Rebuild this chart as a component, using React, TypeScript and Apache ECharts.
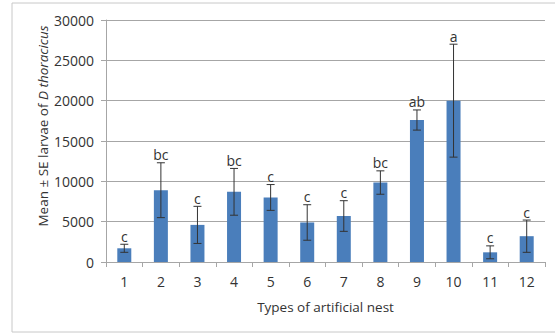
import React, { useEffect, useRef } from "react";
import * as echarts from "echarts";

const categories = ["1", "2", "3", "4", "5", "6", "7", "8", "9", "10", "11", "12"];
const means = [1700, 8900, 4600, 8700, 8000, 4900, 5700, 9850, 17600, 20000, 1200, 3200];
const errors = [500, 3400, 2300, 2900, 1600, 2200, 1900, 1450, 1250, 7000, 800, 2000];
const letters = ["c", "bc", "c", "bc", "c", "c", "c", "bc", "ab", "a", "c", "c"];
const yTicks = [0, 5000, 10000, 15000, 20000, 25000, 30000];

const FONT = "'Open Sans', sans-serif";

export default function App() {
  const ref = useRef<HTMLDivElement>(null);
  useEffect(() => {
    if (!ref.current) return;
    const chart = echarts.init(ref.current, null, { renderer: "svg" });
    const errData = means.map((m, i) => [i, m, errors[i], letters[i]]);
    chart.setOption({
      animation: false,
      grid: { left: 106, right: 10, top: 20, bottom: 72 },
      xAxis: {
        type: "category",
        data: categories,
        axisLine: { lineStyle: { color: "#a6a6a6", width: 1 } },
        axisTick: { show: true, length: 5, lineStyle: { color: "#a6a6a6" } },
        axisLabel: { color: "#333", fontSize: 14, fontFamily: FONT, margin: 12 },
        name: "Types of artificial nest",
        nameLocation: "middle",
        nameGap: 38,
        nameTextStyle: { color: "#333", fontSize: 13.5, fontFamily: FONT },
      },
      yAxis: {
        type: "value",
        min: yTicks[0],
        max: yTicks[yTicks.length - 1],
        interval: 5000,
        axisLine: { show: true, lineStyle: { color: "#a6a6a6" } },
        axisTick: { show: true, length: 5, lineStyle: { color: "#a6a6a6" } },
        splitLine: { lineStyle: { color: "#a6a6a6", width: 1 } },
        axisLabel: {
          color: "#333",
          fontSize: 14,
          fontFamily: FONT,
          margin: 12,
          formatter: (v: number) => String(v),
        },
      },
      graphic: [
        { type: "line", shape: { x1: 12, y1: 3, x2: 555, y2: 3 }, style: { stroke: "#c8c8c8", lineWidth: 1 } },
        { type: "line", shape: { x1: 12, y1: 3, x2: 12, y2: 332 }, style: { stroke: "#c8c8c8", lineWidth: 1 } },
        { type: "line", shape: { x1: 12, y1: 332, x2: 555, y2: 332 }, style: { stroke: "#c8c8c8", lineWidth: 1 } },
        {
          type: "text",
          x: 43,
          y: 126,
          rotation: Math.PI / 2,
          style: {
            text: "{n|Mean ± SE larvae of }{i|D thoracicus}",
            align: "center",
            verticalAlign: "middle",
            rich: {
              n: { fontSize: 13.5, fontFamily: FONT, fill: "#333" },
              i: { fontSize: 13.5, fontFamily: FONT, fill: "#333", fontStyle: "italic" },
            },
          },
        },
      ],
      series: [
        {
          type: "bar",
          data: means,
          barWidth: 14,
          itemStyle: { color: "#4a7ebb" },
        },
        {
          type: "custom",
          data: errData,
          z: 10,
          renderItem: (params: any, api: any) => {
            const i = api.value(0);
            const m = api.value(1);
            const e = api.value(2);
            const top = api.coord([i, m + e]);
            const bot = api.coord([i, m - e]);
            const x = top[0];
            const hw = 4;
            const style = { stroke: "#333", lineWidth: 1 };
            return {
              type: "group",
              children: [
                { type: "line", shape: { x1: x, y1: top[1], x2: x, y2: bot[1] }, style },
                { type: "line", shape: { x1: x - hw, y1: top[1], x2: x + hw, y2: top[1] }, style },
                { type: "line", shape: { x1: x - hw, y1: bot[1], x2: x + hw, y2: bot[1] }, style },
                {
                  type: "text",
                  x: x,
                  y: top[1] - 1,
                  style: {
                    text: letters[i],
                    align: "center",
                    verticalAlign: "bottom",
                    fontSize: 14,
                    fontFamily: FONT,
                    fill: "#333",
                  },
                },
              ],
            };
          },
        },
      ],
    });
    return () => chart.dispose();
  }, []);
  return <div ref={ref} style={{ width: 555, height: 334, position: "absolute", left: 0, top: 0 }} />;
}
